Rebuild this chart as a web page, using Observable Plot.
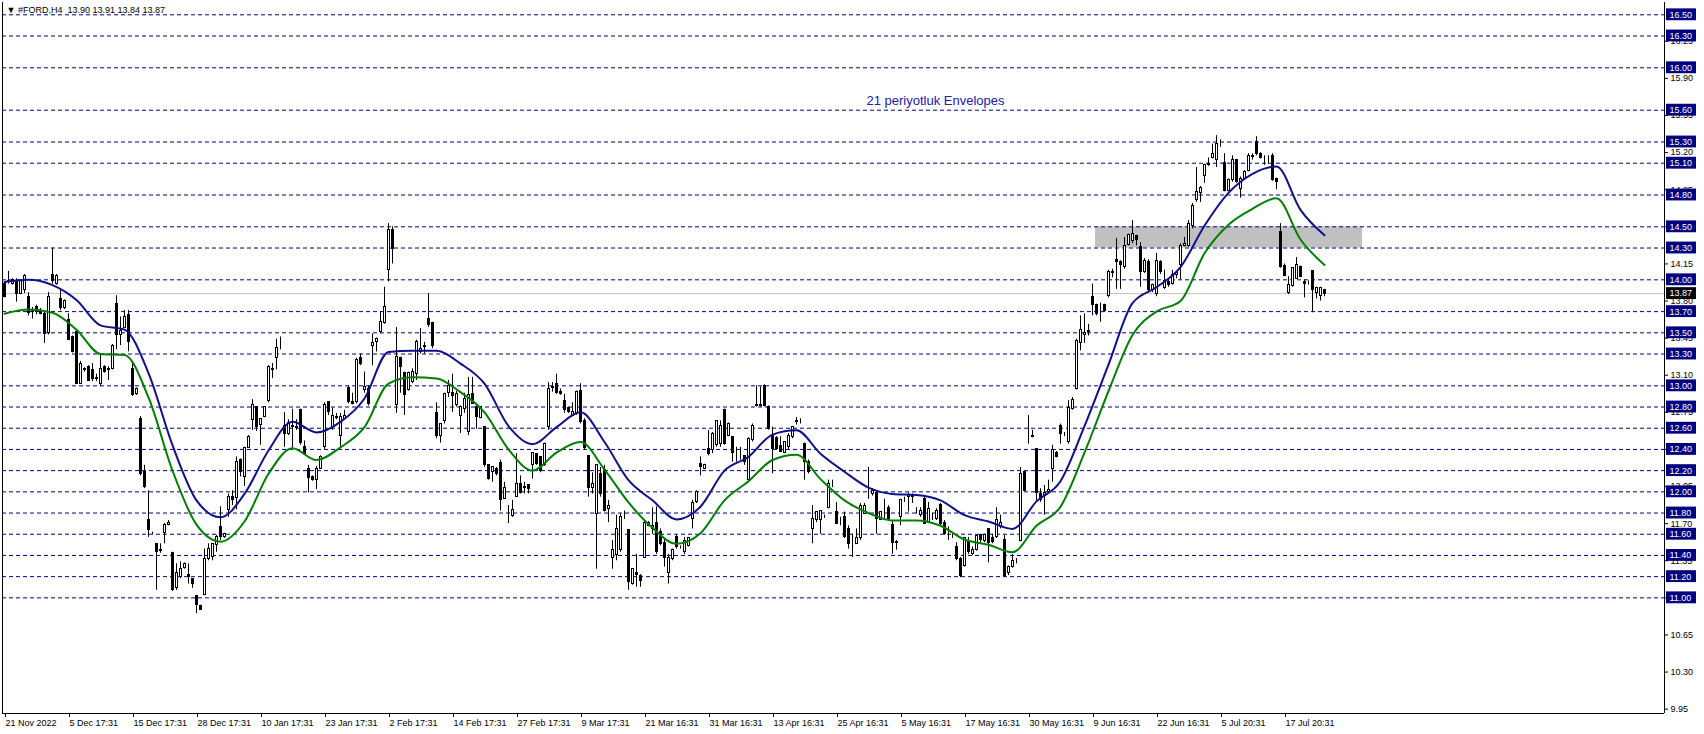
<!DOCTYPE html>
<html>
<head>
<meta charset="utf-8">
<script src="https://cdn.jsdelivr.net/npm/d3@7"></script>
<script src="https://cdn.jsdelivr.net/npm/@observablehq/plot@0.6"></script>
<style>
  html, body { margin: 0; padding: 0; background: #fff; }
  #chart svg { display: block; }
</style>
</head>
<body>
<div id="chart"></div>
<script>
// ---- Data ----
const header = "\u25BC #FORD,H4  13.90 13.91 13.84 13.87";
const envLabel = "21 periyotluk Envelopes";

const xLabels = ["21 Nov 2022","5 Dec 17:31","15 Dec 17:31","28 Dec 17:31","10 Jan 17:31","23 Jan 17:31","2 Feb 17:31","14 Feb 17:31","27 Feb 17:31","9 Mar 17:31","21 Mar 16:31","31 Mar 16:31","13 Apr 16:31","25 Apr 16:31","5 May 16:31","17 May 16:31","30 May 16:31","9 Jun 16:31","22 Jun 16:31","5 Jul 20:31","17 Jul 20:31"];
const xTickIdx = [0,16,32,48,64,80,96,112,128,144,160,176,192,208,224,240,256,272,288,304,320];

const yTicks = [9.95,10.30,10.65,11.00,11.35,11.70,12.05,12.40,12.75,13.10,13.45,13.80,14.15,14.50,14.85,15.20,15.55,15.90,16.25];
const levels = [16.50,16.30,16.00,15.60,15.30,15.10,14.80,14.50,14.30,14.00,13.70,13.50,13.30,13.00,12.80,12.60,12.40,12.20,12.00,11.80,11.60,11.40,11.20,11.00];
const lastPrice = 13.87;

const zone = {start: 272.75, end: 339.5, low: 14.30, high: 14.50};
const labelPos = {i: 215.5, p: 15.69};

const open = [
13.96,13.98,13.96,13.98,13.87,13.90,13.84,13.72,13.74,13.70,
13.68,13.50,14.05,13.96,13.82,13.73,13.62,13.46,13.51,13.02,
13.16,13.18,13.15,13.07,13.02,13.18,13.16,13.16,13.77,13.48,
13.55,13.67,13.16,12.92,12.69,12.19,11.73,11.61,11.51,11.44,
11.61,11.69,11.42,11.09,11.20,11.28,11.22,11.18,11.02,10.92,
11.03,11.37,11.39,11.50,11.67,11.57,11.83,11.95,11.94,12.30,
12.14,12.41,12.68,12.80,12.63,12.71,12.86,13.16,13.26,13.35,
12.62,12.55,12.61,12.61,12.77,12.42,12.22,12.14,12.11,12.22,
12.42,12.85,12.61,12.71,12.53,12.69,12.98,12.85,12.85,13.26,
12.96,12.97,13.38,13.41,13.51,13.59,14.09,14.47,12.82,13.26,
13.12,12.96,13.04,13.11,13.32,13.37,13.63,13.59,12.74,12.53,
12.67,12.93,12.93,12.82,12.72,12.78,12.56,12.92,12.80,12.70,
12.61,12.25,12.19,12.22,12.27,11.93,11.78,11.77,11.95,12.07,
12.04,12.06,12.25,12.36,12.33,12.25,12.61,12.98,13.02,12.94,
12.86,12.79,12.72,12.74,12.95,12.67,12.34,12.04,11.79,12.17,
12.21,11.84,11.38,11.40,11.45,11.76,11.64,11.13,11.23,11.21,
11.38,11.71,11.65,11.71,11.62,11.52,11.23,11.37,11.57,11.48,
11.43,11.49,11.74,11.90,12.26,12.22,12.40,12.39,12.44,12.45,
12.77,12.53,12.52,12.39,12.33,12.34,12.11,12.49,12.81,12.82,
13.00,12.80,12.53,12.51,12.43,12.37,12.42,12.52,12.66,12.66,
12.45,12.28,11.65,11.73,11.73,11.76,11.85,12.08,11.81,11.69,
11.76,11.65,11.54,11.51,11.56,11.79,11.96,11.98,11.99,11.73,
11.86,11.85,11.69,11.53,11.76,11.92,11.95,11.96,11.81,11.78,
11.93,11.71,11.76,11.74,11.88,11.71,11.63,11.58,11.48,11.37,
11.30,11.54,11.41,11.45,11.59,11.54,11.65,11.56,11.57,11.67,
11.55,11.23,11.29,11.35,11.54,12.19,12.54,12.53,12.40,11.98,
11.97,12.00,12.22,12.37,12.62,12.54,12.47,12.78,12.97,13.40,
13.48,13.51,13.84,13.76,13.76,13.76,13.85,14.06,14.19,14.17,
14.12,14.33,14.37,14.41,14.31,14.07,14.17,13.90,13.87,14.17,
13.92,13.98,13.96,14.05,14.14,14.32,14.32,14.51,14.75,14.82,
14.98,15.09,15.15,15.13,15.30,15.10,14.84,14.94,15.13,14.86,
14.95,15.03,15.16,15.30,15.19,15.14,15.16,15.17,14.95,14.45,
14.13,13.88,13.94,14.01,14.12,13.98,13.97,14.08,13.88,13.85,
13.90];

const high = [
13.98,14.08,14.01,14.01,14.00,14.05,13.88,13.74,13.76,13.73,
13.70,13.88,14.30,14.05,13.91,13.81,13.68,13.47,13.51,13.23,
13.17,13.19,13.21,13.11,13.30,13.19,13.18,13.39,13.85,13.65,
13.71,13.71,13.21,12.98,12.71,12.25,12.01,11.62,11.51,11.51,
11.70,11.73,11.43,11.32,11.34,11.33,11.32,11.18,11.02,10.93,
11.46,11.51,11.51,11.59,11.86,11.61,11.98,12.01,12.33,12.31,
12.42,12.53,12.87,12.80,12.69,12.80,13.19,13.21,13.44,13.46,
12.75,12.68,12.78,12.68,12.78,12.48,12.25,12.15,12.24,12.34,
12.84,12.85,12.79,12.74,12.74,12.77,13.00,12.93,13.26,13.30,
13.13,13.00,13.49,13.45,13.70,13.93,14.53,14.50,13.55,13.27,
13.13,13.13,13.16,13.43,13.54,13.41,13.87,13.60,12.84,12.64,
12.93,13.05,13.11,12.95,12.81,12.93,13.08,13.08,12.81,12.80,
12.61,12.25,12.24,12.23,12.30,12.09,11.87,11.92,12.36,12.15,
12.09,12.06,12.37,12.36,12.33,12.46,13.03,13.03,13.11,12.97,
12.92,12.80,12.84,12.95,13.02,12.69,12.34,12.18,12.25,12.23,
12.25,11.92,11.54,11.78,11.79,11.82,11.64,11.27,11.41,11.22,
11.72,11.72,11.85,11.86,11.65,11.56,11.41,11.46,11.59,11.49,
11.57,11.57,11.92,12.01,12.33,12.26,12.58,12.56,12.67,12.67,
12.78,12.65,12.52,12.42,12.42,12.34,12.51,12.64,13.00,12.99,
13.01,12.81,12.61,12.52,12.52,12.47,12.55,12.61,12.70,12.69,
12.46,12.30,11.87,11.81,11.82,11.78,12.11,12.11,11.90,11.76,
11.81,11.68,11.60,11.65,11.89,11.89,12.23,12.03,12.01,11.81,
11.93,11.87,11.73,11.54,11.93,11.95,11.99,11.98,11.85,11.85,
11.95,11.90,11.80,11.84,11.89,11.73,11.67,11.60,11.52,11.38,
11.57,11.57,11.48,11.58,11.60,11.60,11.65,11.60,11.85,11.78,
11.59,11.30,11.41,11.37,12.23,12.19,12.72,12.58,12.41,12.03,
12.06,12.11,12.44,12.38,12.64,12.56,12.86,12.89,13.44,13.66,
13.68,13.58,13.96,13.77,13.78,13.77,14.09,14.10,14.39,14.18,
14.40,14.43,14.56,14.42,14.35,14.20,14.19,13.96,14.25,14.18,
14.09,14.01,14.09,14.07,14.34,14.40,14.56,14.72,15.06,14.88,
15.09,15.15,15.28,15.36,15.32,15.19,14.95,15.17,15.13,14.97,
15.03,15.19,15.19,15.35,15.20,15.17,15.17,15.19,14.96,14.53,
14.15,14.03,14.11,14.21,14.13,14.00,13.99,14.08,13.93,13.93,
13.91];

const low = [
13.83,13.96,13.95,13.79,13.86,13.87,13.66,13.63,13.67,13.67,
13.40,13.48,13.96,13.95,13.71,13.72,13.43,13.31,13.02,13.02,
13.13,13.04,13.04,13.04,12.99,13.12,13.05,13.15,13.34,13.38,
13.54,13.32,12.90,12.91,12.15,12.03,11.57,11.60,11.07,11.42,
11.51,11.68,11.06,11.07,11.18,11.27,11.13,11.09,10.85,10.88,
11.02,11.35,11.35,11.43,11.54,11.56,11.76,11.87,11.83,12.14,
12.05,12.41,12.58,12.57,12.44,12.70,12.84,13.07,13.15,13.34,
12.42,12.53,12.41,12.58,12.44,12.35,11.99,12.10,12.02,12.22,
12.40,12.72,12.58,12.68,12.42,12.68,12.83,12.82,12.83,13.19,
12.93,12.81,13.19,13.32,13.49,13.58,13.98,14.15,12.74,12.93,
12.72,12.95,13.02,13.05,13.30,13.30,13.55,13.35,12.50,12.46,
12.64,12.89,12.75,12.80,12.55,12.74,12.53,12.83,12.59,12.69,
12.23,12.11,12.09,12.15,11.82,11.93,11.70,11.76,11.95,11.98,
11.98,11.98,12.12,12.25,12.18,12.24,12.58,12.94,12.92,12.91,
12.74,12.74,12.72,12.72,12.64,12.39,11.95,11.98,11.27,11.95,
11.81,11.71,11.27,11.35,11.43,11.74,11.07,11.12,11.10,11.10,
11.38,11.67,11.60,11.41,11.49,11.29,11.13,11.35,11.46,11.46,
11.41,11.48,11.65,11.89,12.15,12.21,12.34,12.36,12.42,12.42,
12.44,12.52,12.28,12.28,12.30,12.25,12.09,12.47,12.80,12.80,
12.80,12.58,12.17,12.39,12.37,12.36,12.40,12.50,12.63,12.64,
12.11,12.17,11.51,11.71,11.60,11.75,11.84,12.04,11.70,11.68,
11.56,11.46,11.38,11.51,11.54,11.79,11.93,11.96,11.60,11.73,
11.73,11.73,11.41,11.45,11.68,11.90,11.81,11.89,11.79,11.76,
11.70,11.70,11.73,11.73,11.68,11.59,11.54,11.56,11.35,11.19,
11.29,11.41,11.40,11.44,11.52,11.52,11.33,11.51,11.56,11.65,
11.19,11.21,11.28,11.32,11.53,12.01,12.45,12.51,11.90,11.90,
11.78,11.99,12.09,12.32,12.45,12.52,12.45,12.77,12.96,13.33,
13.40,13.47,13.66,13.66,13.60,13.70,13.83,14.02,13.91,13.91,
14.10,14.32,14.34,14.32,13.93,14.06,13.89,13.88,13.84,14.05,
13.91,13.93,13.95,14.01,14.00,14.31,14.31,14.48,14.73,14.73,
14.91,15.07,15.14,15.06,15.25,14.83,14.83,14.92,14.91,14.77,
14.94,15.02,15.13,15.17,15.14,15.08,15.09,14.93,14.85,14.11,
14.03,13.86,13.93,14.01,14.02,13.83,13.95,13.69,13.82,13.80,
13.84];

const close = [
13.84,13.99,14.00,13.87,13.99,14.04,13.69,13.70,13.70,13.68,
13.49,13.84,13.99,14.04,13.73,13.80,13.43,13.32,13.02,13.21,
13.15,13.05,13.06,13.06,13.16,13.13,13.15,13.38,13.48,13.52,
13.65,13.41,12.91,12.97,12.17,12.05,11.64,11.61,11.43,11.45,
11.69,11.71,11.07,11.23,11.27,11.32,11.20,11.13,10.93,10.89,
11.37,11.46,11.51,11.57,11.57,11.60,11.95,11.92,12.28,12.19,
12.41,12.52,12.82,12.61,12.69,12.80,13.18,13.15,13.36,13.35,
12.55,12.65,12.62,12.60,12.46,12.36,12.13,12.11,12.22,12.33,
12.82,12.75,12.72,12.70,12.71,12.72,12.85,12.83,13.24,13.21,
12.99,12.83,13.40,13.44,13.60,13.74,14.47,14.29,13.27,13.18,
12.91,13.12,13.13,13.41,13.35,13.38,13.57,13.38,12.53,12.64,
12.92,13.00,12.90,12.92,12.80,12.88,12.91,12.83,12.71,12.80,
12.25,12.12,12.23,12.17,11.92,12.04,11.78,11.83,12.07,11.99,
12.05,12.03,12.37,12.26,12.20,12.45,12.97,12.99,12.93,12.92,
12.77,12.75,12.75,12.94,12.66,12.41,12.04,12.07,12.25,11.98,
11.82,11.87,11.45,11.65,11.76,11.76,11.15,11.27,11.22,11.16,
11.71,11.68,11.68,11.43,11.51,11.38,11.38,11.45,11.48,11.48,
11.54,11.56,11.89,12.00,12.23,12.25,12.36,12.55,12.67,12.62,
12.45,12.64,12.37,12.39,12.33,12.28,12.50,12.62,12.82,12.81,
12.81,12.59,12.40,12.40,12.38,12.47,12.53,12.61,12.67,12.66,
12.28,12.19,11.74,11.81,11.82,11.76,12.07,12.08,11.70,11.69,
11.57,11.51,11.54,11.56,11.87,11.87,11.96,12.01,11.74,11.81,
11.86,11.74,11.52,11.52,11.92,11.92,11.97,11.95,11.81,11.82,
11.70,11.84,11.76,11.82,11.70,11.60,11.63,11.58,11.37,11.21,
11.56,11.43,11.45,11.58,11.55,11.59,11.52,11.53,11.73,11.71,
11.21,11.29,11.35,11.35,12.17,12.01,12.54,12.52,11.99,11.92,
11.99,12.02,12.39,12.33,12.55,12.54,12.79,12.87,13.42,13.53,
13.50,13.52,13.76,13.68,13.76,13.71,14.07,14.07,14.17,14.14,
14.32,14.42,14.43,14.38,14.07,14.18,13.90,13.95,14.18,14.07,
13.99,13.95,14.05,14.06,14.32,14.34,14.53,14.70,14.83,14.87,
15.08,15.08,15.19,15.28,15.30,14.84,14.94,15.13,14.92,14.95,
15.02,15.17,15.17,15.19,15.15,15.14,15.16,14.94,14.92,14.12,
14.04,13.95,14.11,14.14,14.03,13.96,13.97,13.90,13.92,13.92,
13.87];

// Envelope (21, 1%) read every 6th bar
const envStep = 6;
const upperEnv = [13.98,14.00,13.95,13.81,13.57,13.53,13.12,12.44,11.92,11.76,11.98,12.39,12.66,12.56,12.66,12.88,13.32,13.33,13.33,13.21,13.02,12.62,12.45,12.61,12.75,12.47,12.11,11.92,11.74,11.86,12.20,12.33,12.54,12.58,12.36,12.19,12.04,11.98,11.97,11.92,11.78,11.72,11.65,11.91,12.10,12.62,13.20,13.78,13.93,14.12,14.51,14.82,15.00,15.07,14.66,14.42];
const lowerEnv = [13.68,13.72,13.69,13.53,13.30,13.29,12.89,12.20,11.69,11.53,11.72,12.17,12.41,12.30,12.42,12.61,13.02,13.08,13.07,12.94,12.75,12.40,12.20,12.37,12.47,12.21,11.90,11.66,11.51,11.61,11.92,12.10,12.30,12.35,12.12,11.92,11.80,11.73,11.73,11.68,11.55,11.50,11.43,11.68,11.86,12.37,12.95,13.48,13.70,13.80,14.25,14.52,14.67,14.77,14.38,14.14];

// ---- Build tables ----
const candles = close.map((c, i) => ({i, o: open[i], h: high[i], l: low[i], c}));
const envPts = upperEnv.map((u, k) => ({i: k * envStep, up: u, lo: lowerEnv[k]}));

const xDomain = [-0.5, 415];
const yDomain = [9.909, 16.616];
const boxH = 0.056;
const navy = "#000080";

const plot = Plot.plot({
  width: 1704,
  height: 734,
  marginLeft: 2,
  marginRight: 40,
  marginTop: 2,
  marginBottom: 21,
  x: {domain: xDomain, label: null},
  y: {domain: yDomain, label: null},
  style: {fontFamily: "'Liberation Sans', Arial, sans-serif", fontSize: "9px", background: "#fff", color: "#000", overflow: "visible"},
  marks: [
    Plot.rect([zone], {x1: "start", x2: "end", y1: "low", y2: "high", fill: "#C0C0C0"}),
    Plot.ruleY(levels, {stroke: navy, strokeDasharray: "4,3"}),
    Plot.ruleY([lastPrice], {stroke: "#C0C0C0"}),
    Plot.ruleX(candles, {x: "i", y1: "l", y2: "h", stroke: "#000"}),
    Plot.rect(candles, {
      x1: d => d.i - 0.25, x2: d => d.i + 0.25, y1: "o", y2: "c",
      fill: d => d.c >= d.o ? "#ffffff" : "#000000", stroke: "#000", shapeRendering: "crispEdges"
    }),
    Plot.line(envPts, {x: "i", y: "up", stroke: "#10108C", strokeWidth: 2, curve: "monotone-x"}),
    Plot.line(envPts, {x: "i", y: "lo", stroke: "#008000", strokeWidth: 2, curve: "monotone-x"}),
    Plot.text([envLabel], {x: () => labelPos.i, y: () => labelPos.p, text: d => d, textAnchor: "start", fill: "#2020A8", fontSize: 13}),
    Plot.ruleX(xDomain, {stroke: "#000"}),
    Plot.ruleY([yDomain[0]], {stroke: "#000"}),
    Plot.axisX(xTickIdx, {anchor: "bottom", tickSize: 4, tickPadding: 2, textAnchor: "start", dx: 1, tickFormat: d => xLabels[xTickIdx.indexOf(d)]}),
    Plot.axisY(yTicks, {anchor: "right", tickSize: 3, tickPadding: 3, tickFormat: d => d.toFixed(2)}),
    Plot.rect(levels, {x1: () => xDomain[1] + 0.5, x2: () => xDomain[1] + 8, y1: d => d - boxH, y2: d => d + boxH, fill: navy}),
    Plot.text(levels, {y: d => d, frameAnchor: "right", dx: 5, textAnchor: "start", text: d => d.toFixed(2), fill: "#fff"}),
    Plot.rect([lastPrice], {x1: () => xDomain[1] + 0.5, x2: () => xDomain[1] + 8, y1: d => d - boxH, y2: d => d + boxH, fill: "#000"}),
    Plot.text([lastPrice], {y: d => d, frameAnchor: "right", dx: 5, textAnchor: "start", text: d => d.toFixed(2), fill: "#fff"}),
    Plot.text([header], {frameAnchor: "top-left", dx: 4, dy: 4, text: d => d, fill: "#000", textAnchor: "start"})
  ]
});
document.getElementById("chart").appendChild(plot);
</script>
</body>
</html>
